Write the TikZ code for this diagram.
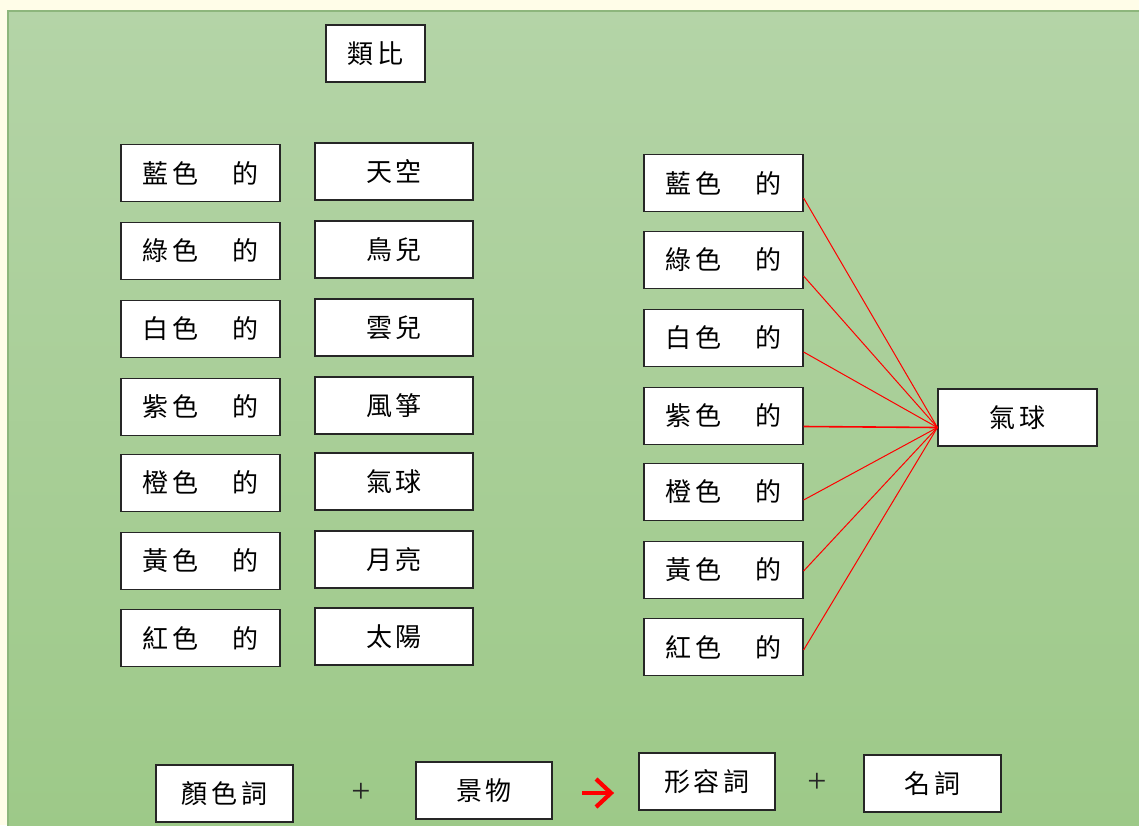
\documentclass[tikz,border=0pt]{standalone}
\usepackage{fontspec}
\newfontfamily\cjk[LetterSpace=14]{Noto Sans CJK TC}
\newfontfamily\latinserif{Liberation Serif}
\usetikzlibrary{calc}
\definecolor{cream}{HTML}{FFFDE8}
\definecolor{bgtop}{HTML}{B4D4A7}
\definecolor{bgbot}{HTML}{9DC988}
\definecolor{bgline}{HTML}{8DB67C}
\definecolor{boxline}{HTML}{262626}
\begin{document}
\begin{tikzpicture}[x=1pt,y=-1pt,
  wbox/.style={draw=boxline, line width=1.2pt, fill=white, minimum height=57pt,
    inner sep=0pt, text=black, font=\cjk\fontsize{26}{26}\selectfont},
  cwid/.style={minimum width=159pt},
  link/.style={draw=red, line width=1pt},
  plussign/.style={inner sep=0pt, text=black!85, font=\latinserif\fontsize{34}{34}\selectfont},
  redarrow/.style={draw=red, line width=4.2pt},
]
\useasboundingbox (0,0) rectangle (1139,825);
\fill[cream] (0,0) rectangle (1139,825);
\shade[top color=bgtop, bottom color=bgbot] (8,11) rectangle (1145,830);
\draw[bgline, line width=1.5pt] (1145,11) -- (8,11) -- (8,830);

% title
\node[wbox, minimum width=99pt] (leibi) at (375.5,53.5) {類比};

% left column: colours
\node[wbox, cwid] (a1) at (200.5,173) {藍色\hspace{34pt}的};
\node[wbox, cwid] (a2) at (200.5,251) {綠色\hspace{34pt}的};
\node[wbox, cwid] (a3) at (200.5,329) {白色\hspace{34pt}的};
\node[wbox, cwid] (a4) at (200.5,407) {紫色\hspace{34pt}的};
\node[wbox, cwid] (a5) at (200.5,483) {橙色\hspace{34pt}的};
\node[wbox, cwid] (a6) at (200.5,561) {黃色\hspace{34pt}的};
\node[wbox, cwid] (a7) at (200.5,638) {紅色\hspace{34pt}的};

% second column: things
\node[wbox, minimum width=158pt] (b1) at (394,171.5) {天空};
\node[wbox, minimum width=158pt] (b2) at (394,249.5) {鳥兒};
\node[wbox, minimum width=158pt] (b3) at (394,327.5) {雲兒};
\node[wbox, minimum width=158pt] (b4) at (394,405.5) {風箏};
\node[wbox, minimum width=158pt] (b5) at (394,481.5) {氣球};
\node[wbox, minimum width=158pt] (b6) at (394,559.5) {月亮};
\node[wbox, minimum width=158pt] (b7) at (394,636.5) {太陽};

% right column: colours
\node[wbox, cwid] (c1) at (723.5,183) {藍色\hspace{34pt}的};
\node[wbox, cwid] (c2) at (723.5,260) {綠色\hspace{34pt}的};
\node[wbox, cwid] (c3) at (723.5,338) {白色\hspace{34pt}的};
\node[wbox, cwid] (c4) at (723.5,416) {紫色\hspace{34pt}的};
\node[wbox, cwid] (c5) at (723.5,492) {橙色\hspace{34pt}的};
\node[wbox, cwid] (c6) at (723.5,570) {黃色\hspace{34pt}的};
\node[wbox, cwid] (c7) at (723.5,647) {紅色\hspace{34pt}的};

\node[wbox, cwid] (qiqiu) at (1017.5,417.5) {氣球};
\coordinate (hub) at ([yshift=-10pt]qiqiu.west);

\draw[link] ([yshift=-15pt]c1.east) -- (hub);
\draw[link] ([yshift=-16pt]c2.east) -- (hub);
\draw[link] ([yshift=-14pt]c3.east) -- (hub);
\draw[link, line width=1.6pt] ([yshift=-10.5pt]c4.east) -- (hub);
\draw[link] ([yshift=-8pt]c5.east) -- (hub);
\draw[link] ([yshift=-1pt]c6.east) -- (hub);
\draw[link] ([yshift=-3pt]c7.east) -- (hub);

% bottom formula
\node[wbox, minimum width=137pt] (yanse) at (224.5,793.5) {顏色詞};
\node[plussign] (plusA) at (361,793) {+};
\node[wbox, minimum width=136pt] (jingwu) at (484,790.5) {景物};
\coordinate (arrS) at (582,793);
\coordinate (arrE) at (611,793);
\draw[redarrow] (arrS) -- (arrE);
\draw[redarrow, line join=miter] ($(arrE)+(-15,-14)$) -- (arrE) -- ($(arrE)+(-15,14)$);
\node[wbox, minimum width=136pt] (xingrong) at (707,781.5) {形容詞};
\node[plussign] (plusB) at (817,783) {+};
\node[wbox, minimum width=137pt] (mingci) at (932.5,783.5) {名詞};
\end{tikzpicture}
\end{document}
